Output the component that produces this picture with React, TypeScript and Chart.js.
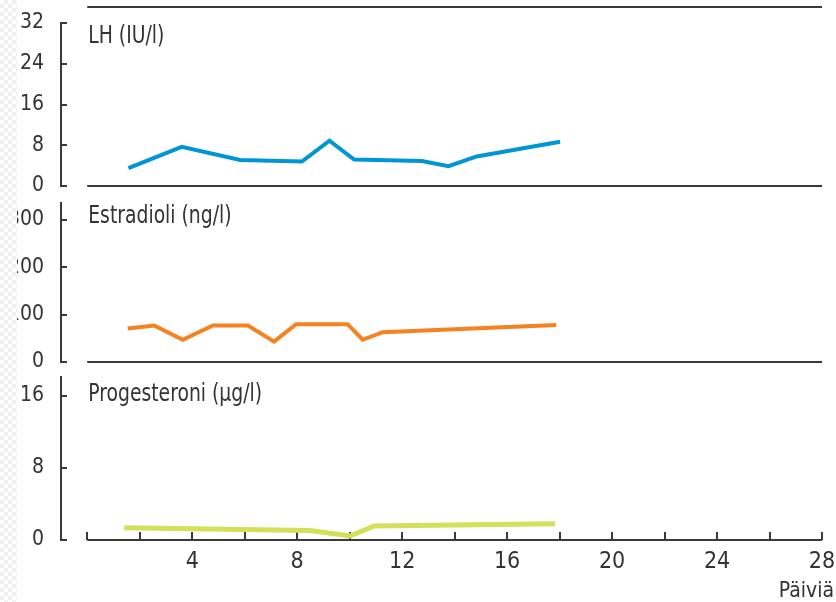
import React, { useEffect, useRef } from 'react';
import { Chart, registerables } from 'chart.js';

Chart.register(...registerables);

const FONT = "'Liberation Sans Narrow', 'DejaVu Sans Condensed', sans-serif";
const TEXT = '#333333';
const AXIS = '#3a3a3a';

// x axis (days)
const dayTicks = [0, 2, 4, 6, 8, 10, 12, 14, 16, 18, 20, 22, 24, 26, 28];
const dayLabels = [4, 8, 12, 16, 20, 24, 28];
const xTitle = 'Päiviä';

// LH (IU/l)
const lhDays = [1.57, 3.6, 5.83, 8.18, 9.23, 10.17, 12.75, 13.77, 14.84, 18.02];
const lhValues = [3.5, 7.7, 5.1, 4.8, 8.9, 5.2, 4.9, 3.9, 5.8, 8.7];
const lhTicks = [0, 8, 16, 24, 32];

// Estradioli (ng/l)
const e2Days = [1.54, 2.55, 3.64, 4.79, 6.12, 7.12, 7.96, 9.92, 10.5, 11.26, 17.87];
const e2Values = [71, 77, 47, 77, 77, 43, 80, 80, 47, 63, 78];
const e2Ticks = [0, 100, 200, 300];

// Progesteroni (µg/l)
const progDays = [1.41, 8.5, 10.02, 10.93, 17.83];
const progValues = [1.35, 1.05, 0.45, 1.55, 1.8];
const progTicks = [0, 8, 16];

type Panel = {
  title: string;
  days: number[];
  values: number[];
  ticks: number[];
  max: number;
  color: string;
  width: number;
  top: number;
  height: number;
  padTop: number;
  padBottom: number;
  showX: boolean;
  topLine: boolean;
  titleDy: number;
};

const panels: Panel[] = [
  { title: 'LH (IU/l)', days: lhDays, values: lhValues, ticks: lhTicks, max: 32, color: '#0096d6', width: 4,
    top: 0, height: 200, padTop: 23, padBottom: 14, showX: false, topLine: true, titleDy: 20 },
  { title: 'Estradioli (ng/l)', days: e2Days, values: e2Values, ticks: e2Ticks, max: 336, color: '#f5821f', width: 4,
    top: 180, height: 200, padTop: 23, padBottom: 18, showX: false, topLine: false, titleDy: 20 },
  { title: 'Progesteroni (µg/l)', days: progDays, values: progValues, ticks: progTicks, max: 18.1, color: '#d2e05a', width: 5,
    top: 355, height: 247, padTop: 22, padBottom: 0, showX: true, topLine: false, titleDy: 23.5 },
];

function makeDecor(p: Panel) {
  return {
    id: 'decor',
    beforeDatasetsDraw(chart: any) {
      const { ctx, chartArea: ca } = chart;
      const xs = chart.scales.x;
      const ys = chart.scales.y;
      ctx.save();
      ctx.strokeStyle = AXIS;
      ctx.lineWidth = 2;
      // inward y ticks
      ys.ticks.forEach((t: any) => {
        const y = Math.round(ys.getPixelForValue(t.value));
        ctx.beginPath();
        ctx.moveTo(ca.left, y);
        ctx.lineTo(ca.left + 6, y);
        ctx.stroke();
      });
      const x0 = xs.getPixelForValue(dayTicks[0]);
      const x1 = xs.getPixelForValue(dayTicks[dayTicks.length - 1]);
      // baseline
      ctx.beginPath();
      ctx.moveTo(x0, Math.round(ca.bottom));
      ctx.lineTo(x1, Math.round(ca.bottom));
      ctx.stroke();
      if (p.topLine) {
        ctx.beginPath();
        ctx.moveTo(x0, ca.top - 16);
        ctx.lineTo(x1, ca.top - 16);
        ctx.stroke();
      }
      if (p.showX) {
        dayTicks.forEach((v) => {
          const x = Math.round(xs.getPixelForValue(v));
          ctx.beginPath();
          ctx.moveTo(x, ca.bottom);
          ctx.lineTo(x, ca.bottom - 8);
          ctx.stroke();
        });
      }
      // panel title (condensed)
      ctx.fillStyle = TEXT;
      ctx.font = `24px ${FONT}`;
      ctx.textAlign = 'left';
      ctx.textBaseline = 'alphabetic';
      ctx.translate(x0 + 1, ca.top + p.titleDy);
      ctx.scale(0.87, 1);
      ctx.fillText(p.title, 0, 0);
      ctx.restore();
    },
  };
}

function PanelChart({ p }: { p: Panel }) {
  const ref = useRef<HTMLCanvasElement>(null);
  useEffect(() => {
    if (!ref.current) return;
    const chart = new Chart(ref.current, {
      type: 'line',
      data: {
        datasets: [
          {
            data: p.days.map((d, i) => ({ x: d, y: p.values[i] })),
            borderColor: p.color,
            borderWidth: p.width,
            pointRadius: 0,
            fill: false,
            tension: 0,
          },
        ],
      },
      options: {
        animation: false,
        responsive: false,
        maintainAspectRatio: false,
        events: [],
        layout: { padding: { top: p.padTop, bottom: p.padBottom, left: 0, right: 2 } },
        plugins: { legend: { display: false }, tooltip: { enabled: false }, title: { display: false } },
        scales: {
          x: {
            type: 'linear',
            min: -1,
            max: 28.457,
            display: p.showX,
            afterBuildTicks: (s: any) => {
              s.ticks = dayTicks.map((v) => ({ value: v }));
            },
            afterFit: (s: any) => {
              if (p.showX) s.height = 62;
              s.paddingLeft = 0;
              s.paddingRight = 0;
            },
            grid: { display: false, drawTicks: false },
            border: { display: false },
            ticks: {
              autoSkip: false,
              maxRotation: 0,
              padding: 8,
              color: TEXT,
              font: { family: FONT, size: 23 },
              callback: (v: any) => (dayLabels.includes(Number(v)) ? String(v) : ''),
            },
            title: {
              display: true,
              text: xTitle,
              align: 'end',
              color: TEXT,
              font: { family: FONT, size: 21, lineHeight: 1 },
              padding: 0,
            },
          },
          y: {
            type: 'linear',
            min: 0,
            max: p.max,
            afterBuildTicks: (s: any) => {
              s.ticks = p.ticks.map((v) => ({ value: v }));
            },
            afterFit: (s: any) => {
              s.width = 61;
              s.paddingTop = 0;
              s.paddingBottom = 0;
            },
            grid: { display: false, drawTicks: false },
            border: { display: true, color: AXIS, width: 2 },
            ticks: { autoSkip: false, padding: 17, color: TEXT, font: { family: FONT, size: 21 } },
          },
        },
      } as any,
      plugins: [makeDecor(p)],
    });
    return () => chart.destroy();
  }, [p]);
  return (
    <canvas
      ref={ref}
      width={836}
      height={p.height}
      style={{ position: 'absolute', left: 0, top: p.top, width: 836, height: p.height }}
    />
  );
}

export default function App() {
  useEffect(() => {
    document.body.style.margin = '0';
  }, []);
  return (
    <div style={{ position: 'relative', width: 836, height: 602, background: '#ffffff', overflow: 'hidden' }}>
      {panels.map((p, i) => (
        <PanelChart key={i} p={p} />
      ))}
      <div
        style={{
          position: 'absolute',
          left: 0,
          top: 0,
          width: 17,
          height: 602,
          background: 'repeating-conic-gradient(#f1f1f1 0% 25%, #ffffff 0% 50%) 0 0 / 8px 8px',
        }}
      />
    </div>
  );
}
